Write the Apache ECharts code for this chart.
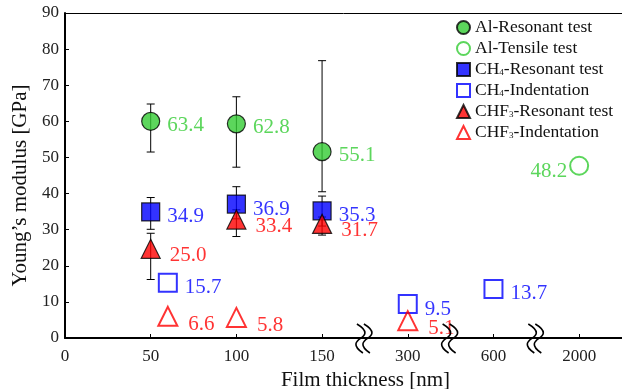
<!DOCTYPE html>
<html>
<head>
<meta charset="utf-8">
<script src="https://cdn.jsdelivr.net/npm/echarts@6/dist/echarts.min.js"></script>
<style>
html, body { margin: 0; padding: 0; background: #fff; }
#chart { width: 622px; height: 389px; }
</style>
</head>
<body>
<div id="chart"></div>
<script>
// tick labels of the broken x axis, one axis unit per tick
var thicknessTicks = ['0', '50', '100', '150', '300', '600', '2000'];
var breakX = [3.5, 4.5, 5.5];

// Al
var alResX = [1, 2, 3];
var alResY = [60, 59.3, 51.6];
var alResLow = [51.5, 47.3, 40.5];
var alResHigh = [64.8, 66.8, 76.8];
var alResText = ['63.4', '62.8', '55.1'];
var alTenX = [6];
var alTenY = [47.7];
var alTenText = ['48.2'];

// CH4
var ch4ResX = [1, 2, 3];
var ch4ResY = [34.9, 37.1, 35.2];
var ch4ResLow = [30.1, 33, 31];
var ch4ResHigh = [38.9, 41.9, 39.3];
var ch4ResText = ['34.9', '36.9', '35.3'];
var ch4IndX = [1.2, 4, 5];
var ch4IndY = [15.3, 9.4, 13.6];
var ch4IndText = ['15.7', '9.5', '13.7'];

// CHF3
var chf3ResX = [1, 2, 3];
var chf3ResY = [24.7, 32.8, 31.6];
var chf3ResLow = [16.2, 28.1, 28.5];
var chf3ResHigh = [29.0, 35.5, 33.5];
var chf3ResText = ['25.0', '33.4', '31.7'];
var chf3IndX = [1.2, 2, 4];
var chf3IndY = [6.0, 5.7, 4.8];
var chf3IndText = ['6.6', '5.8', '5.1'];

var GREEN = '#33cc33', BLUE = '#0000ff', RED = '#ff0000';
var FONT = 'Liberation Serif';

function pts(xs, ys) {
  return xs.map(function (x, i) { return [x, ys[i]]; });
}
function bars(xs, lo, hi) {
  return xs.map(function (x, i) { return [x, lo[i], hi[i]]; });
}

function errorSeries(data) {
  return {
    type: 'custom',
    z: 1,
    silent: true,
    data: data,
    renderItem: function (params, api) {
      var top = api.coord([api.value(0), api.value(2)]);
      var bot = api.coord([api.value(0), api.value(1)]);
      var st = { stroke: '#000', lineWidth: 1 };
      return {
        type: 'group',
        children: [
          { type: 'line', shape: { x1: top[0], y1: top[1], x2: bot[0], y2: bot[1] }, style: st },
          { type: 'line', shape: { x1: top[0] - 4, y1: top[1], x2: top[0] + 4, y2: top[1] }, style: st },
          { type: 'line', shape: { x1: bot[0] - 4, y1: bot[1], x2: bot[0] + 4, y2: bot[1] }, style: st }
        ]
      };
    }
  };
}

function scatter(name, data, texts, symbol, size, color, filled, labelPos, offset, dist) {
  return {
    name: name,
    type: 'scatter',
    z: 3,
    symbol: symbol,
    symbolSize: size,
    data: data,
    itemStyle: filled
      ? { color: color, borderColor: '#000', borderWidth: 1.2 }
      : { color: 'rgba(255,255,255,0)', borderColor: color, borderWidth: 2 },
    label: {
      show: true,
      position: labelPos,
      distance: dist,
      offset: offset,
      color: color,
      fontFamily: FONT,
      fontSize: 21,
      formatter: function (p) { return texts[p.dataIndex]; }
    }
  };
}

var chart = echarts.init(document.getElementById('chart'));

var option = {
  animation: false,
  backgroundColor: '#fff',
  textStyle: { fontFamily: FONT },
  grid: { left: 65, right: 0, top: 13, bottom: 51, outerBoundsMode: 'none', containLabel: false },
  legend: {
    orient: 'vertical',
    left: 451,
    top: 12,
    itemWidth: 13,
    itemHeight: 13,
    itemGap: 0,
    data: ['Al-Resonant test', 'Al-Tensile test', 'CH4-Resonant test', 'CH4-Indentation', 'CHF3-Resonant test', 'CHF3-Indentation'],
    formatter: function (name) {
      return name.replace(/(CHF?)(\d)/, '$1{sub|$2}');
    },
    textStyle: {
      fontFamily: FONT,
      fontSize: 17.5,
      lineHeight: 21,
      color: '#111',
      rich: {
        sub: { fontFamily: FONT, fontSize: 9, lineHeight: 21, verticalAlign: 'middle', padding: [6, 0, 0, 0], color: '#111' }
      }
    }
  },
  xAxis: [{
    type: 'value',
    min: 0,
    max: 6.5,
    interval: 1,
    name: 'Film thickness [nm]',
    nameLocation: 'middle',
    nameGap: 32,
    nameTextStyle: { fontFamily: FONT, fontSize: 21, color: '#111', padding: [0, 0, 0, 44] },
    axisLine: { onZero: false, lineStyle: { color: '#000', width: 2 } },
    axisTick: { inside: true, length: 4, lineStyle: { color: '#000' } },
    axisLabel: {
      fontFamily: FONT, fontSize: 17, color: '#222', margin: 10,
      formatter: function (v) { return thicknessTicks[v] !== undefined ? thicknessTicks[v] : ''; }
    },
    splitLine: { show: false }
  }, {
    type: 'value',
    position: 'top',
    min: 0,
    max: 6.5,
    axisLine: { onZero: false, lineStyle: { color: '#000', width: 1 } },
    axisTick: { show: false },
    axisLabel: { show: false },
    splitLine: { show: false }
  }],
  yAxis: {
    type: 'value',
    min: 0,
    max: 90,
    interval: 10,
    name: 'Young\u2019s modulus [GPa]',
    nameLocation: 'middle',
    nameGap: 30,
    nameTextStyle: { fontFamily: FONT, fontSize: 21, color: '#111', padding: [0, 20, 0, 0] },
    axisLine: { show: true, lineStyle: { color: '#000', width: 2 } },
    axisTick: { inside: true, length: 4, lineStyle: { color: '#000' } },
    axisLabel: { fontFamily: FONT, fontSize: 17, color: '#222', margin: 6 },
    splitLine: { show: false }
  },
  series: [
    errorSeries(bars(alResX, alResLow, alResHigh)),
    errorSeries(bars(ch4ResX, ch4ResLow, ch4ResHigh)),
    errorSeries(bars(chf3ResX, chf3ResLow, chf3ResHigh)),
    scatter('Al-Resonant test', pts(alResX, alResY), alResText, 'circle', 18, GREEN, true, 'right', [0, 4], 7),
    scatter('Al-Tensile test', pts(alTenX, alTenY), alTenText, 'circle', 18, GREEN, false, 'left', [0, 6], 2),
    scatter('CH4-Resonant test', pts(ch4ResX, ch4ResY), ch4ResText, 'rect', 18, BLUE, true, 'right', [0, 5], 7),
    scatter('CH4-Indentation', pts(ch4IndX, ch4IndY), ch4IndText, 'rect', 18, BLUE, false, 'right', [0, 5], 7),
    scatter('CHF3-Resonant test', pts(chf3ResX, chf3ResY), chf3ResText, 'triangle', 19, RED, true, 'right', [0, 7], 9),
    scatter('CHF3-Indentation', pts(chf3IndX, chf3IndY), chf3IndText, 'triangle', 19, RED, false, 'right', [0, 8], 10),
    {
      // axis break marks
      type: 'custom',
      z: 4,
      silent: true,
      clip: false,
      data: breakX.map(function (x) { return [x, 0]; }),
      renderItem: function (params, api) {
        var c = api.coord([api.value(0), api.value(1)]);
        var st = { stroke: '#000', lineWidth: 1.6, fill: null };
        function wave(dx) {
          return {
            type: 'polyline',
            shape: {
              points: [
                [c[0] - 5 + dx, c[1] - 14],
                [c[0] + 3 + dx, c[1] - 5],
                [c[0] - 6 + dx, c[1] + 6],
                [c[0] + 1 + dx, c[1] + 15]
              ],
              smooth: 0.45
            },
            style: st
          };
        }
        return {
          type: 'group',
          children: [wave(-3), wave(4)]
        };
      }
    }
  ]
};

chart.setOption(option);
</script>
</body>
</html>
